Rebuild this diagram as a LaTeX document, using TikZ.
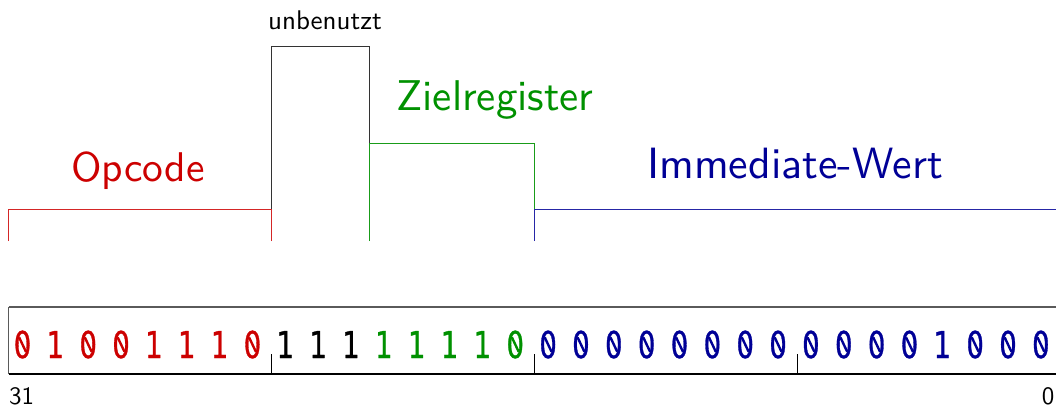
\documentclass[tikz,border=0pt]{standalone}
\usepackage{fontspec}
\newfontfamily\bitfont[FakeStretch=0.74, FakeBold=0.8]{DejaVu Sans}
\newfontfamily\lblfont{lmsans10-regular.otf}
\definecolor{opred}{RGB}{204,0,0}
\definecolor{zgreen}{RGB}{0,145,0}
\definecolor{iblue}{RGB}{0,0,150}
\definecolor{framegray}{RGB}{90,90,90}
\begin{document}
\begin{tikzpicture}[x=1pt,y=-1pt,
  bit/.style={inner sep=0pt, anchor=base, font=\bitfont\fontsize{37}{37}\selectfont},
  zslash/.style={line width=2.4pt},
  biglbl/.style={inner sep=0pt, anchor=base, font=\lblfont\fontsize{43}{50}\selectfont},
  smalllbl/.style={inner sep=0pt, anchor=base, font=\lblfont\fontsize{27}{30}\selectfont},
  numlbl/.style={inner sep=0pt, anchor=base, font=\lblfont\fontsize{25}{28}\selectfont},
  brack/.style={line width=1pt},
  divider/.style={line width=0.9pt, black}]
\useasboundingbox (0,0) rectangle (1056,407);
% bit boundaries
\foreach \k in {0,...,32} \coordinate (e\k) at ({8.6+\k*32.85},0);
% register box
\draw[framegray, line width=1pt] (e0 |- 0,374) -- (e0 |- 0,307);
\draw[framegray, line width=1.6pt] (e0 |- 0,307) -- (1075,307);
\draw[black, line width=1.6pt] (e0 |- 0,374) -- (1075,374);
\foreach \k in {8,16,24} \draw[divider] (e\k |- 0,354) -- (e\k |- 0,374);
% bits
\foreach \b/\c [count=\i from 0] in {0/opred,1/opred,0/opred,0/opred,1/opred,1/opred,1/opred,0/opred,
  1/black,1/black,1/black,
  1/zgreen,1/zgreen,1/zgreen,1/zgreen,0/zgreen,
  0/iblue,0/iblue,0/iblue,0/iblue,0/iblue,0/iblue,0/iblue,0/iblue,
  0/iblue,0/iblue,0/iblue,0/iblue,1/iblue,0/iblue,0/iblue,0/iblue}{
  \node[bit, text=\c] (bit\i) at ({8.6+(\i+0.5)*32.85-2.5},358) {\b};
  \ifnum\b=0\relax
    \draw[zslash, \c] ([shift={(-3.4,-7.2)}]bit\i.center) -- ([shift={(3.4,7.2)}]bit\i.center);
  \fi
}
\node[numlbl, anchor=base west] (msb) at (9,404) {31};
\node[numlbl] (lsb) at (1048,404) {0};
% field brackets
\draw[brack, black!80] (e8 |- 0,241) -- (e8 |- 0,46) -- (e11 |- 0,46) -- (e11 |- 0,241);
\draw[brack, opred!85] (e0 |- 0,241) -- (e0 |- 0,209) -- (e8 |- 0,209) -- (e8 |- 0,241);
\draw[brack, zgreen!90] (e11 |- 0,241) -- (e11 |- 0,143) -- (e16 |- 0,143) -- (e16 |- 0,241);
\draw[brack, iblue!85] (e16 |- 0,241) -- (e16 |- 0,209) -- (1075,209);
% labels
\node[biglbl, text=opred, font=\lblfont\fontsize{41.5}{50}\selectfont] (opc) at (138,181) {Opcode};
\node[biglbl, text=zgreen] (zreg) at (495,110) {Zielregister};
\node[biglbl, text=iblue, font=\lblfont\fontsize{43.8}{50}\selectfont] (imm) at (795,178) {Immediate-Wert};
\node[smalllbl] (unb) at (325,29) {unbenutzt};
\end{tikzpicture}
\end{document}
